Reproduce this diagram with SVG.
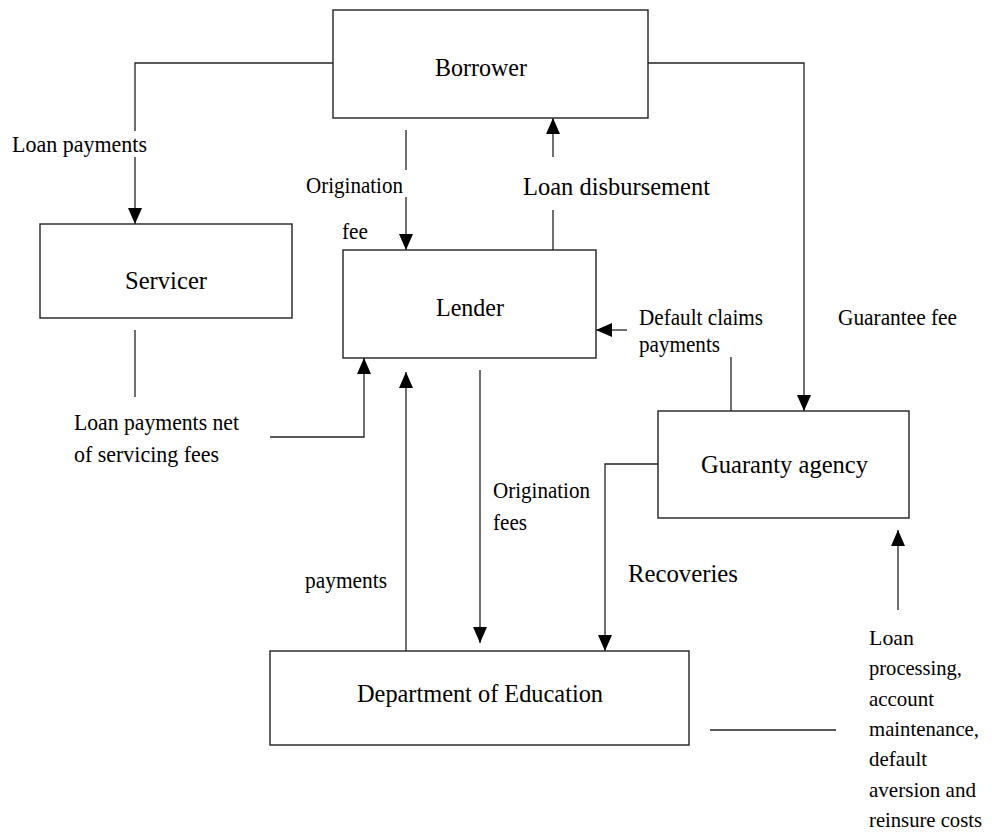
<svg xmlns="http://www.w3.org/2000/svg" width="992" height="839" viewBox="0 0 992 839">
<style>
.box{fill:#fff;stroke:#222;stroke-width:1.4}
.ln{fill:none;stroke:#222;stroke-width:1.3}
.arr{fill:none;stroke:#222;stroke-width:1.3;marker-end:url(#ah)}
text{font-family:"Liberation Serif","Times New Roman",serif;fill:#000}
.node{font-size:26px}
.lbl{font-size:23px}
.big{font-size:26px}
.side{font-size:22px}
</style>
<defs>
<marker id="ah" markerUnits="userSpaceOnUse" markerWidth="16" markerHeight="14" refX="16" refY="7" orient="auto">
<path d="M0,0 L16,7 L0,14 z" fill="#000"/>
</marker>
</defs>
<rect width="992" height="839" fill="#fff"/>
<g id="connectors">
<polyline class="ln" points="333,63 135,63 135,131"/>
<line class="arr" x1="135" y1="157" x2="135" y2="224"/>
<line class="ln" x1="406" y1="130" x2="406" y2="170"/>
<line class="arr" x1="406" y1="197" x2="406" y2="250"/>
<line class="ln" x1="553" y1="250" x2="553" y2="210"/>
<line class="arr" x1="553" y1="157" x2="553" y2="118"/>
<polyline class="arr" points="648,63 804,63 804,411"/>
<line class="ln" x1="135" y1="330" x2="135" y2="397"/>
<polyline class="arr" points="270,437 364,437 364,358"/>
<line class="ln" x1="731" y1="411" x2="731" y2="357"/>
<line class="arr" x1="627" y1="330" x2="596" y2="330"/>
<line class="arr" x1="406" y1="651" x2="406" y2="372"/>
<line class="arr" x1="480" y1="370" x2="480" y2="643"/>
<polyline class="arr" points="658,464 605,464 605,651"/>
<line class="ln" x1="710" y1="730" x2="836" y2="730"/>
<line class="arr" x1="898" y1="610" x2="898" y2="530"/>
</g>
<g id="labels">
<text class="lbl" x="12" y="152" textLength="135" lengthAdjust="spacingAndGlyphs">Loan  payments</text>
<text class="lbl" x="306" y="193" textLength="97" lengthAdjust="spacingAndGlyphs">Origination</text>
<text class="lbl" x="342" y="239" textLength="26" lengthAdjust="spacingAndGlyphs">fee</text>
<text class="big" x="523" y="195" textLength="187" lengthAdjust="spacingAndGlyphs">Loan disbursement</text>
<text class="lbl" x="639" y="325" textLength="124" lengthAdjust="spacingAndGlyphs">Default claims</text>
<text class="lbl" x="639" y="352" textLength="81" lengthAdjust="spacingAndGlyphs">payments</text>
<text class="lbl" x="838" y="325" textLength="119" lengthAdjust="spacingAndGlyphs">Guarantee fee</text>
<text class="lbl" x="74" y="430" textLength="165" lengthAdjust="spacingAndGlyphs">Loan payments  net</text>
<text class="lbl" x="74" y="462" textLength="145" lengthAdjust="spacingAndGlyphs">of servicing  fees</text>
<text class="lbl" x="493" y="498" textLength="97" lengthAdjust="spacingAndGlyphs">Origination</text>
<text class="lbl" x="493" y="530" textLength="34" lengthAdjust="spacingAndGlyphs">fees</text>
<text class="lbl" x="305" y="588" textLength="82" lengthAdjust="spacingAndGlyphs">payments</text>
<text class="big" x="628" y="582" textLength="110" lengthAdjust="spacingAndGlyphs">Recoveries</text>
<text class="side" x="869" y="645" textLength="45" lengthAdjust="spacingAndGlyphs">Loan</text>
<text class="side" x="869" y="675" textLength="93" lengthAdjust="spacingAndGlyphs">processing,</text>
<text class="side" x="869" y="706" textLength="65" lengthAdjust="spacingAndGlyphs">account</text>
<text class="side" x="869" y="736" textLength="110" lengthAdjust="spacingAndGlyphs">maintenance,</text>
<text class="side" x="869" y="766" textLength="58" lengthAdjust="spacingAndGlyphs">default</text>
<text class="side" x="869" y="797" textLength="107" lengthAdjust="spacingAndGlyphs">aversion and</text>
<text class="side" x="869" y="827" textLength="113" lengthAdjust="spacingAndGlyphs">reinsure costs</text>
</g>
<g id="borrower">
<rect class="box" x="333" y="10" width="315" height="108"/>
<text class="node" x="435" y="76" textLength="92" lengthAdjust="spacingAndGlyphs">Borrower</text>
</g>
<g id="servicer">
<rect class="box" x="40" y="224" width="252" height="94"/>
<text class="node" x="125" y="289" textLength="82" lengthAdjust="spacingAndGlyphs">Servicer</text>
</g>
<g id="lender">
<rect class="box" x="343" y="250" width="253" height="108"/>
<text class="node" x="436" y="316" textLength="68" lengthAdjust="spacingAndGlyphs">Lender</text>
</g>
<g id="guaranty-agency">
<rect class="box" x="658" y="411" width="251" height="107"/>
<text class="node" x="701" y="473" textLength="167" lengthAdjust="spacingAndGlyphs">Guaranty agency</text>
</g>
<g id="department-of-education">
<rect class="box" x="270" y="651" width="419" height="94"/>
<text class="node" x="357" y="702" textLength="246" lengthAdjust="spacingAndGlyphs">Department of Education</text>
</g>
</svg>
